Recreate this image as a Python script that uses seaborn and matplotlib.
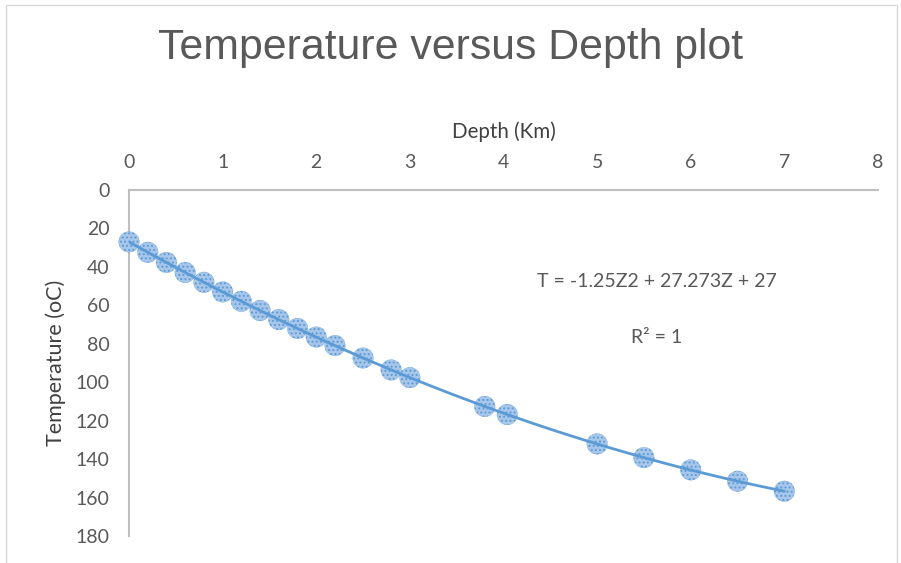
import seaborn as sns
import matplotlib.pyplot as plt
import pandas as pd
from matplotlib.patches import Rectangle

# Depth (Km) and temperature (oC)
depth = [0, 0.2, 0.4, 0.6, 0.8, 1.0, 1.2, 1.4, 1.6, 1.8, 2.0, 2.2, 2.5, 2.8, 3.0,
         3.8, 4.04, 5.0, 5.5, 6.0, 6.5, 7.0]
temperature = [27, 32.4, 37.7, 42.9, 48.0, 53.0, 57.9, 62.7, 67.4, 72.0, 76.5, 80.9,
               87.4, 93.6, 97.6, 112.6, 116.8, 132.1, 139.2, 145.6, 151.5, 156.7]
x_ticks = [0, 1, 2, 3, 4, 5, 6, 7, 8]
y_ticks = [0, 20, 40, 60, 80, 100, 120, 140, 160, 180]

df = pd.DataFrame({"Depth": depth, "Temperature": temperature})

sns.set_theme(style="white")
plt.rcParams["font.family"] = ["Lato", "DejaVu Sans"]
plt.rcParams["hatch.linewidth"] = 0.9

grey = "#595959"
blue = "#5b9bd5"

fig = plt.figure(figsize=(9.01, 5.63), dpi=100)
ax = fig.add_axes([129 / 901, 1 - 536 / 563, (878 - 129) / 901, (536 - 190) / 563])

# chart area border
fig.patches.append(Rectangle((6 / 901, -0.02), 891 / 901, 1 - 5 / 563 + 0.02,
                             transform=fig.transFigure, fill=False,
                             edgecolor="#d9d9d9", linewidth=1))

sns.scatterplot(data=df, x="Depth", y="Temperature", s=220, marker="o",
                color="#a7c6ea", edgecolor="#5b9bd5", linewidth=0.2,
                hatch="....", ax=ax, zorder=3, clip_on=False)

# polynomial trendline (order 2), drawn over the markers
sns.regplot(data=df, x="Depth", y="Temperature", order=2, ci=None, scatter=False,
            truncate=True, line_kws={"color": blue, "linewidth": 2.0, "zorder": 4},
            ax=ax)

ax.set_xlim(0, 8)
ax.set_ylim(180, 0)
ax.set_xticks(x_ticks)
ax.set_yticks(y_ticks)
ax.xaxis.tick_top()
ax.xaxis.set_label_position("top")
ax.tick_params(axis="x", length=0, pad=14, labelsize=14, labelcolor=grey)
ax.tick_params(axis="y", length=0, pad=14, labelsize=14, labelcolor=grey)

ax.set_xlabel("Depth (Km)", fontsize=14.8, color="#404040", labelpad=11)
ax.set_ylabel("Temperature (oC)", fontsize=15.5, color="#404040", labelpad=7)

for side in ["bottom", "right"]:
    ax.spines[side].set_visible(False)
for side in ["top", "left"]:
    ax.spines[side].set_color("#bfbfbf")
    ax.spines[side].set_linewidth(1.5)

ax.text(5.64, 47.5, "T = -1.25Z2 + 27.273Z + 27", fontsize=14, color=grey,
        ha="center", va="center")
ax.text(5.64, 76.5, "R² = 1", fontsize=14, color=grey, ha="center", va="center")

fig.text(0.5, 1 - 48 / 563, "Temperature versus Depth plot", fontsize=30.8,
         color=grey, ha="center", va="center", family="Liberation Sans")

plt.savefig("out.png", dpi=100)
